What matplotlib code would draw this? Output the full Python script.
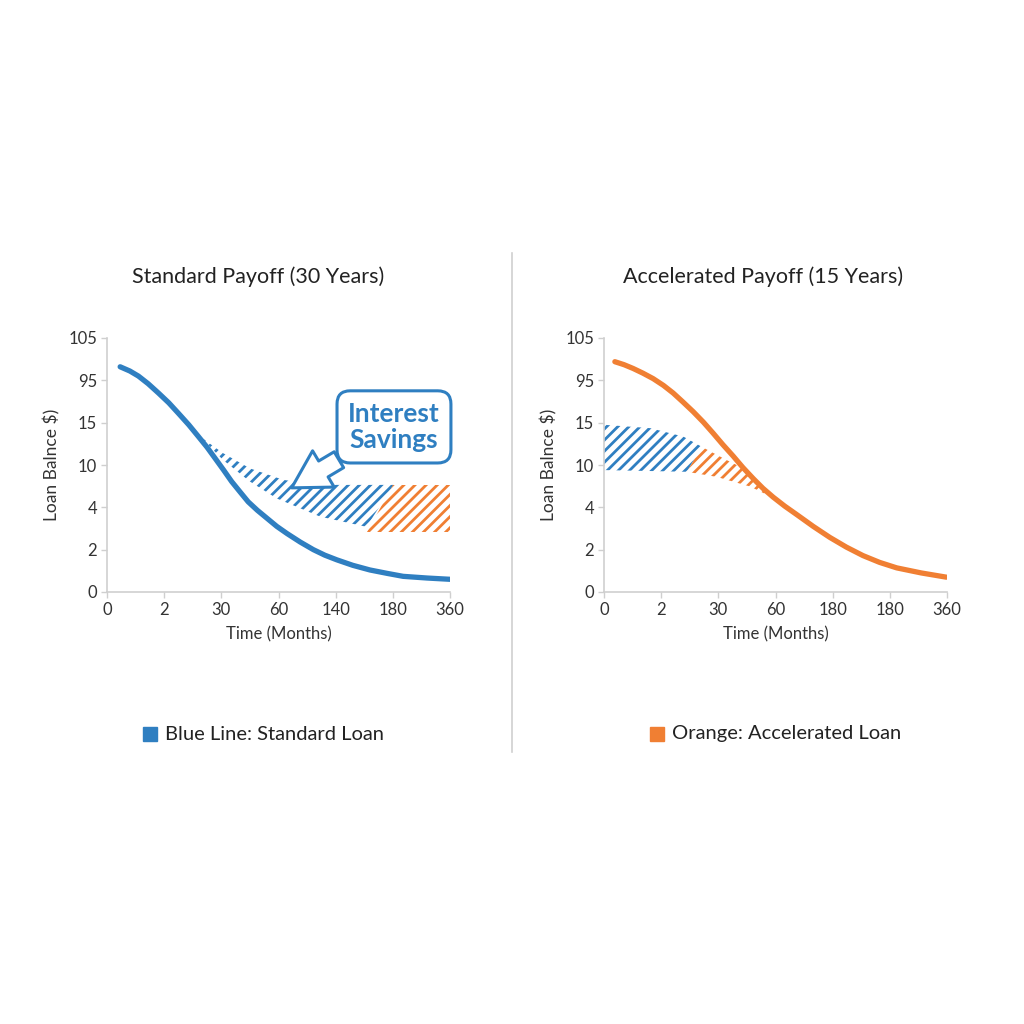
import matplotlib
matplotlib.use("Agg")
import matplotlib.pyplot as plt

plt.rcParams['font.family'] = ['Lato', 'DejaVu Sans']
plt.rcParams['hatch.linewidth'] = 2.0

BLUE = '#2f7fc1'
ORANGE = '#f07f33'
GRID = '#cfcfcf'
TXT = '#333333'

# Tick labels (equally spaced categorical scale)
x_labels_left = ['0', '2', '30', '60', '140', '180', '360']
x_labels_right = ['0', '2', '30', '60', '180', '180', '360']
y_labels = ['0', '2', '4', '10', '15', '95', '105']

# Curves (in tick-position units)
std_x = [0.23, 0.40, 0.55, 0.72, 0.90, 1.08, 1.25, 1.43, 1.60, 1.75, 1.89, 2.04, 2.18, 2.33, 2.47,
         2.63, 2.80, 2.97, 3.15, 3.38, 3.61, 3.81, 4.02, 4.30, 4.60, 4.90, 5.18, 5.60, 6.0]
std_y = [5.32, 5.22, 5.10, 4.92, 4.70, 4.47, 4.22, 3.95, 3.67, 3.42, 3.16, 2.88, 2.61, 2.36, 2.13,
         1.93, 1.74, 1.55, 1.38, 1.18, 1.00, 0.87, 0.76, 0.63, 0.52, 0.44, 0.37, 0.33, 0.30]

acc_x = [0.19, 0.35, 0.51, 0.68, 0.86, 1.04, 1.21, 1.38, 1.56, 1.74, 1.91, 2.08, 2.26, 2.43, 2.61,
         2.78, 2.96, 3.16, 3.37, 3.66, 3.95, 4.24, 4.53, 4.82, 5.12, 5.55, 5.99]
acc_y = [5.44, 5.37, 5.28, 5.17, 5.04, 4.88, 4.70, 4.49, 4.26, 4.01, 3.75, 3.48, 3.21, 2.94, 2.68,
         2.45, 2.24, 2.03, 1.83, 1.55, 1.29, 1.06, 0.86, 0.70, 0.57, 0.45, 0.35]

# Hatched savings regions, left panel
l_blue_x = [1.63, 2.03, 2.50, 3.08, 3.67, 5.01, 4.54, 3.73, 2.97, 2.50, 2.03]
l_blue_y = [3.67, 3.28, 2.92, 2.65, 2.53, 2.53, 1.54, 1.78, 2.21, 2.61, 3.12]
l_orng_x = [5.01, 6.0, 6.0, 4.54]
l_orng_y = [2.53, 2.53, 1.42, 1.42]

# Hatched regions, right panel
r_blue_x = [0.0, 0.81, 1.39, 1.71, 1.45, 0.0]
r_blue_y = [3.95, 3.87, 3.67, 3.43, 2.84, 2.88]
r_orng_x = [1.71, 2.14, 2.50, 2.85, 3.20, 3.32, 3.04, 2.56, 1.97, 1.45]
r_orng_y = [3.43, 3.12, 2.88, 2.41, 2.02, 1.86, 2.17, 2.49, 2.72, 2.84]

fig = plt.figure(figsize=(10.24, 10.24), dpi=100)

def style(ax, xlabels):
    ax.set_xlim(0, 6)
    ax.set_ylim(0, 6)
    ax.set_xticks(range(7))
    ax.set_xticklabels(xlabels)
    ax.set_yticks(range(7))
    ax.set_yticklabels(y_labels)
    for s in ['top', 'right']:
        ax.spines[s].set_visible(False)
    for s in ['left', 'bottom']:
        ax.spines[s].set_color(GRID)
        ax.spines[s].set_linewidth(1.2)
    ax.tick_params(colors=GRID, labelcolor=TXT, labelsize=12, length=4, width=1, pad=3)
    ax.set_xlabel('Time (Months)', fontsize=12, color=TXT, labelpad=6)
    ax.set_ylabel('Loan Balnce $)', fontsize=12.5, color=TXT, labelpad=6)

axL = fig.add_axes([107/1024, 1-592/1024, 343/1024, 254/1024])
axR = fig.add_axes([604/1024, 1-592/1024, 343/1024, 254/1024])
for ax in (axL, axR):
    ax.patch.set_alpha(0)

style(axL, x_labels_left)
style(axR, x_labels_right)

axL.fill(l_blue_x, l_blue_y, facecolor='none', edgecolor=BLUE, hatch='///', lw=0)
axL.fill(l_orng_x, l_orng_y, facecolor='none', edgecolor=ORANGE, hatch='///', lw=0)
axL.plot(std_x, std_y, color=BLUE, lw=3.8, solid_capstyle='round', solid_joinstyle='round', zorder=5)

axR.fill(r_blue_x, r_blue_y, facecolor='none', edgecolor=BLUE, hatch='///', lw=0)
axR.fill(r_orng_x, r_orng_y, facecolor='none', edgecolor=ORANGE, hatch='///', lw=0)
axR.plot(acc_x, acc_y, color=ORANGE, lw=3.8, solid_capstyle='round', solid_joinstyle='round', zorder=5)

axL.annotate('Interest\nSavings', xy=(3.23, 2.46), xytext=(5.02, 3.9),
             ha='center', va='center', fontsize=19, fontweight='bold', color=BLUE,
             linespacing=1.1, zorder=10,
             bbox=dict(boxstyle='round,pad=0.42,rounding_size=0.5', fc='white', ec=BLUE, lw=2.2),
             arrowprops=dict(arrowstyle='simple,head_length=1.4,head_width=1.6,tail_width=0.7',
                             fc='white', ec=BLUE, lw=2.2, shrinkA=0, shrinkB=0,
                             connectionstyle='arc3,rad=0'))

fig.text(258/1024, 1-277/1024, 'Standard Payoff (30 Years)', ha='center', va='center',
         fontsize=15.5, color='#222222')
fig.text(763/1024, 1-277/1024, 'Accelerated Payoff (15 Years)', ha='center', va='center',
         fontsize=15.5, color='#222222')

fig.add_artist(plt.Line2D([512/1024, 512/1024], [1-253/1024, 1-752/1024], color='#d0d0d0', lw=1.2))

fig.add_artist(plt.Rectangle((143/1024, 1-741/1024), 14/1024, 14/1024, color=BLUE))
fig.text(165/1024, 1-734/1024, 'Blue Line: Standard Loan', ha='left', va='center',
         fontsize=14.5, color='#222222')
fig.add_artist(plt.Rectangle((650/1024, 1-741/1024), 14/1024, 14/1024, color=ORANGE))
fig.text(672/1024, 1-734/1024, 'Orange: Accelerated Loan', ha='left', va='center',
         fontsize=14.5, color='#222222')

fig.savefig('out.png', dpi=100, facecolor='white')
